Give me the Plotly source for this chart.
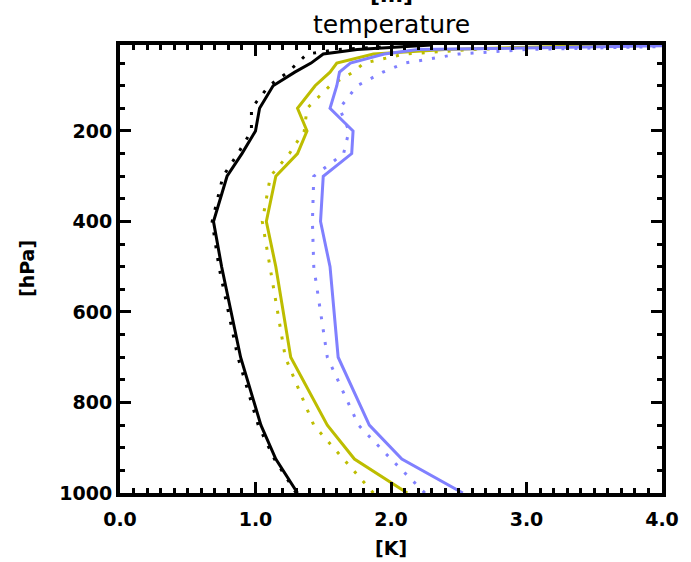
import plotly.graph_objects as go

pressure = [1000, 925, 850, 700, 500, 400, 300, 250, 200, 150, 100, 70, 50, 30, 20, 10]

black_solid = [1.31, 1.15, 1.04, 0.89, 0.75, 0.69, 0.79, 0.90, 1.00, 1.03, 1.13, 1.29, 1.41, 1.50, 1.75, 2.30]
black_dot   = [1.30, 1.14, 1.02, 0.87, 0.73, 0.68, 0.76, 0.87, 0.97, 0.97, 1.10, 1.24, 1.31, 1.38, 1.60, 2.20]
yellow_solid = [2.12, 1.73, 1.53, 1.26, 1.15, 1.08, 1.15, 1.31, 1.38, 1.31, 1.44, 1.55, 1.60, 1.87, 2.40, 3.66]
yellow_dot   = [1.87, 1.65, 1.43, 1.22, 1.11, 1.05, 1.11, 1.25, 1.36, 1.38, 1.55, 1.72, 1.80, 2.10, 2.60, 3.60]
blue_solid = [2.53, 2.08, 1.84, 1.61, 1.55, 1.48, 1.50, 1.71, 1.72, 1.55, 1.60, 1.62, 1.70, 1.95, 2.20, 4.40]
blue_dot   = [2.25, 2.00, 1.76, 1.53, 1.43, 1.42, 1.43, 1.65, 1.69, 1.62, 1.75, 1.94, 2.10, 2.50, 3.00, 4.50]

x_ticks = [0, 1, 2, 3, 4]
x_labels = ["0.0", "1.0", "2.0", "3.0", "4.0"]
y_ticks = [200, 400, 600, 800, 1000]
y_labels = ["200", "400", "600", "800", "1000"]

BLACK = "#000000"
YELLOW = "#BDBD00"
BLUE = "#8080FF"
DOT = "3px,10px"
FONT = "DejaVu Sans"

series = [
    (black_solid, BLACK, "solid"),
    (black_dot, BLACK, DOT),
    (yellow_solid, YELLOW, "solid"),
    (yellow_dot, YELLOW, DOT),
    (blue_solid, BLUE, "solid"),
    (blue_dot, BLUE, DOT),
]

fig = go.Figure()
for xs, col, dash in series:
    fig.add_trace(go.Scatter(x=xs, y=pressure, mode="lines",
                             line=dict(color=col, width=3, dash=dash),
                             showlegend=False))

axis_common = dict(
    showline=True, linewidth=4, linecolor="black", mirror="allticks",
    ticks="inside", ticklen=11, tickwidth=3, tickcolor="black",
    showgrid=False, zeroline=False,
    tickfont=dict(family=FONT, size=19, color="black", weight="bold"),
)

fig.update_xaxes(range=[0, 4], tickvals=x_ticks, ticktext=x_labels,
                 ticklabelstandoff=6,
                 minor=dict(ticks="inside", dtick=0.1, ticklen=5, tickwidth=3, tickcolor="black"),
                 **axis_common)
fig.update_yaxes(range=[1000, 10], tickvals=y_ticks, ticktext=y_labels,
                 minor=dict(ticks="inside", dtick=50, tick0=0, ticklen=5, tickwidth=3, tickcolor="black"),
                 **axis_common)

fig.update_layout(
    width=691, height=562,
    margin=dict(l=120, r=21, t=45, b=69),
    plot_bgcolor="white", paper_bgcolor="white",
    annotations=[
        dict(text="temperature", xref="paper", yref="paper", x=0.5, y=1.0, yshift=4,
             xanchor="center", yanchor="bottom", showarrow=False,
             font=dict(family=FONT, size=25, color="black")),
        dict(text="[m]", xref="paper", yref="paper", x=0.5, y=1.0, yshift=36,
             xanchor="center", yanchor="bottom", showarrow=False,
             font=dict(family=FONT, size=22, color="black", weight="bold")),
        dict(text="[K]", xref="paper", yref="paper", x=0.5, y=0, yshift=-42,
             xanchor="center", yanchor="top", showarrow=False,
             font=dict(family=FONT, size=19, color="black", weight="bold")),
        dict(text="[hPa]", xref="paper", yref="paper", x=0, xshift=-106, y=0.5,
             xanchor="left", yanchor="middle", textangle=-90, showarrow=False,
             font=dict(family=FONT, size=19, color="black", weight="bold")),
    ],
)

fig.write_html("out.html")
